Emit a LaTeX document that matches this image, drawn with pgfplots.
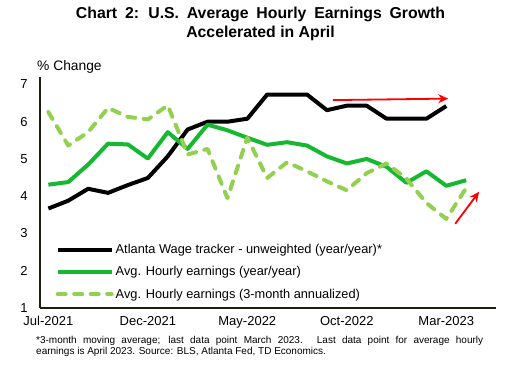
\documentclass[border=0pt]{standalone}
\usepackage{pgfplots}
\pgfplotsset{compat=1.18}
\usepackage{fontspec}
\setmainfont{Liberation Sans}
\usetikzlibrary{arrows.meta}
\definecolor{cblack}{RGB}{0,0,0}
\definecolor{cgreen}{RGB}{22,184,50}
\definecolor{clight}{RGB}{146,208,80}
\definecolor{caxis}{RGB}{30,30,15}
\begin{document}
\begin{tikzpicture}[x=1bp,y=1bp]
\path[use as bounding box] (0,0) rectangle (517,385);
\node[font=\bfseries\fontsize{15.8bp}{18.5bp}\selectfont, align=center] at (260.5,361) {\spaceskip=7.8bp Chart 2: U.S. Average Hourly Earnings Growth\\Accelerated in April};
\node[anchor=west, font=\fontsize{13.8bp}{15bp}\selectfont, inner sep=0pt] at (37,318) {\% Change};
\begin{axis}[
  at={(40bp,77bp)}, anchor=south west,
  width=456bp, height=231bp, scale only axis,
  xmin=-0.42, xmax=22.5, ymin=1, ymax=7.2,
  axis lines*=left,
  axis line style={caxis, line width=1.3bp},
  xtick={0,5,10,15,20},
  xticklabels={Jul-2021,Dec-2021,May-2022,Oct-2022,Mar-2023},
  ytick={1,2,3,4,5,6,7},
  major tick length=0pt,
  tick label style={font=\fontsize{13bp}{15bp}\selectfont},
  /pgf/number format/assume math mode=true,
  yticklabel style={xshift=-9bp},
  xticklabel style={yshift=-5bp},
  clip=false,
  legend style={draw=none, fill=none, at={(0.034,0.285)}, anchor=north west,
    font=\fontsize{12.8bp}{15bp}\selectfont, row sep=7.5bp, inner sep=0pt},
  legend cell align=left,
  legend image code/.code={\draw[#1] (0bp,0bp) -- (54bp,0bp);},
  every axis plot/.append style={line join=round},
]
\addplot[cblack, line width=4bp] coordinates {
(0,3.67)(1,3.88)(2,4.2)(3,4.09)(4,4.3)(5,4.49)(6,5.07)(7,5.79)(8,6.0)(9,6.0)(10,6.08)
(11,6.73)(12,6.73)(13,6.73)(14,6.31)(15,6.43)(16,6.43)(17,6.08)(18,6.08)(19,6.08)(20,6.42)};
\addlegendentry{Atlanta Wage tracker - unweighted (year/year)*}
\addplot[cgreen, line width=4bp] coordinates {
(0,4.31)(1,4.38)(2,4.85)(3,5.41)(4,5.39)(5,5.01)(6,5.72)(7,5.27)(8,5.92)(9,5.77)(10,5.57)
(11,5.38)(12,5.45)(13,5.36)(14,5.07)(15,4.88)(16,5.0)(17,4.79)(18,4.36)(19,4.67)(20,4.28)(21,4.43)};
\addlegendentry{Avg. Hourly earnings (year/year)}
\addplot[clight, line width=4bp, line cap=round, dash pattern=on 8bp off 8.5bp] coordinates {
(0,6.26)(1,5.36)(2,5.72)(3,6.37)(4,6.13)(5,6.06)(6,6.44)(7,5.12)(8,5.27)(9,3.95)(10,5.57)
(11,4.49)(12,4.91)(13,4.67)(14,4.40)(15,4.16)(16,4.62)(17,4.88)(18,4.47)(19,3.82)(20,3.39)(21,4.22)};
\addlegendentry{Avg. Hourly earnings (3-month annualized)}
\addplot[red, line width=1.8bp, -{Stealth[length=10bp,width=9bp]}, forget plot] coordinates {(14.3,6.58)(20.1,6.62)};
\addplot[red, line width=1.8bp, -{Stealth[length=10bp,width=9bp]}, forget plot] coordinates {(20.45,3.26)(21.65,4.12)};
\end{axis}
\node[anchor=north west, inner sep=0pt, font=\fontsize{10bp}{11.5bp}\selectfont, text width=447bp, align=justify] at (36,49) {*3-month moving average; last data point March 2023. Last data point for average hourly\linebreak earnings is April 2023. Source: BLS, Atlanta Fed, TD Economics.};
\end{tikzpicture}
\end{document}
